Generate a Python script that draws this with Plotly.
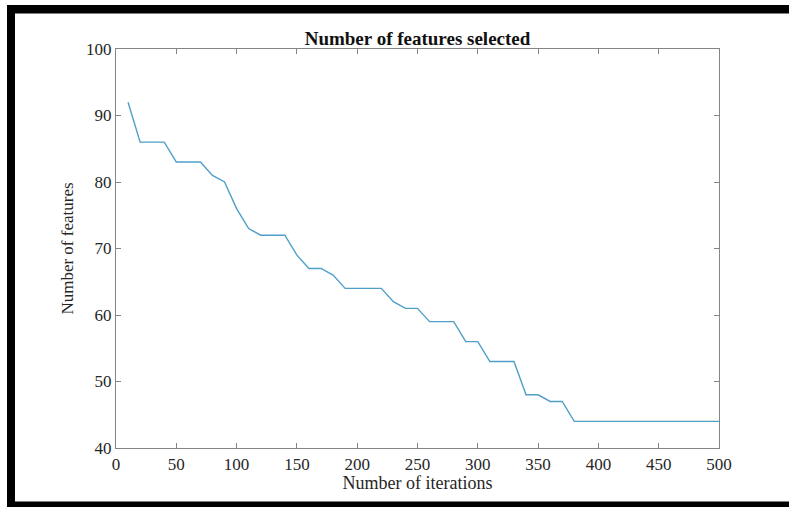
import plotly.graph_objects as go

iterations = list(range(10, 510, 10))
features = [92, 86, 86, 86, 83, 83, 83, 81, 80, 76,
            73, 72, 72, 72, 69, 67, 67, 66, 64, 64,
            64, 64, 62, 61, 61, 59, 59, 59, 56, 56,
            53, 53, 53, 48, 48, 47, 47, 44, 44, 44,
            44, 44, 44, 44, 44, 44, 44, 44, 44, 44]

x_ticks = list(range(0, 501, 50))
y_ticks = list(range(40, 101, 10))

W, H = 789, 507
L, R, T, B = 116, 719, 49, 448


def px(x):
    return (x - L) / (R - L)


def py(y):
    return (B - y) / (B - T)


fig = go.Figure()
fig.add_trace(go.Scatter(x=iterations, y=features, mode="lines",
                         line=dict(color="#4f9fc8", width=1.4),
                         showlegend=False))

font = dict(family="Liberation Serif, Times New Roman, serif", color="#262626")
axis_common = dict(showgrid=False, zeroline=False, showline=True, mirror="ticks",
                   linecolor="#858585", linewidth=1.2, ticks="inside", ticklen=5,
                   tickcolor="#858585", tickfont=dict(size=17, **font))

fig.update_layout(
    width=W, height=H,
    margin=dict(l=L, r=W - R, t=T, b=H - B),
    paper_bgcolor="white", plot_bgcolor="white",
    font=font,
    title=dict(text="<b>Number of features selected</b>", x=px(417.5), xref="paper",
               y=1 - 38 / H, yref="container", yanchor="middle", xanchor="center",
               font=dict(size=19, color="#111111")),
    xaxis=dict(range=[0, 500], tickvals=x_ticks, **axis_common,
               title=dict(text="Number of iterations", font=dict(size=18, **font), standoff=3)),
    yaxis=dict(range=[40, 100], tickvals=y_ticks, **axis_common,
               title=dict(text="Number of features", font=dict(size=17, **font), standoff=8)),
)

frame = [
    (7, 5, 789, 13.5),
    (7, 5, 15, 507),
    (7, 501.5, 789, 507),
]
for x0, y0, x1, y1 in frame:
    fig.add_shape(type="rect", xref="paper", yref="paper",
                  x0=px(x0), x1=px(x1), y0=py(y1), y1=py(y0),
                  fillcolor="black", line=dict(width=0), layer="above")

fig.write_html("out.html")
